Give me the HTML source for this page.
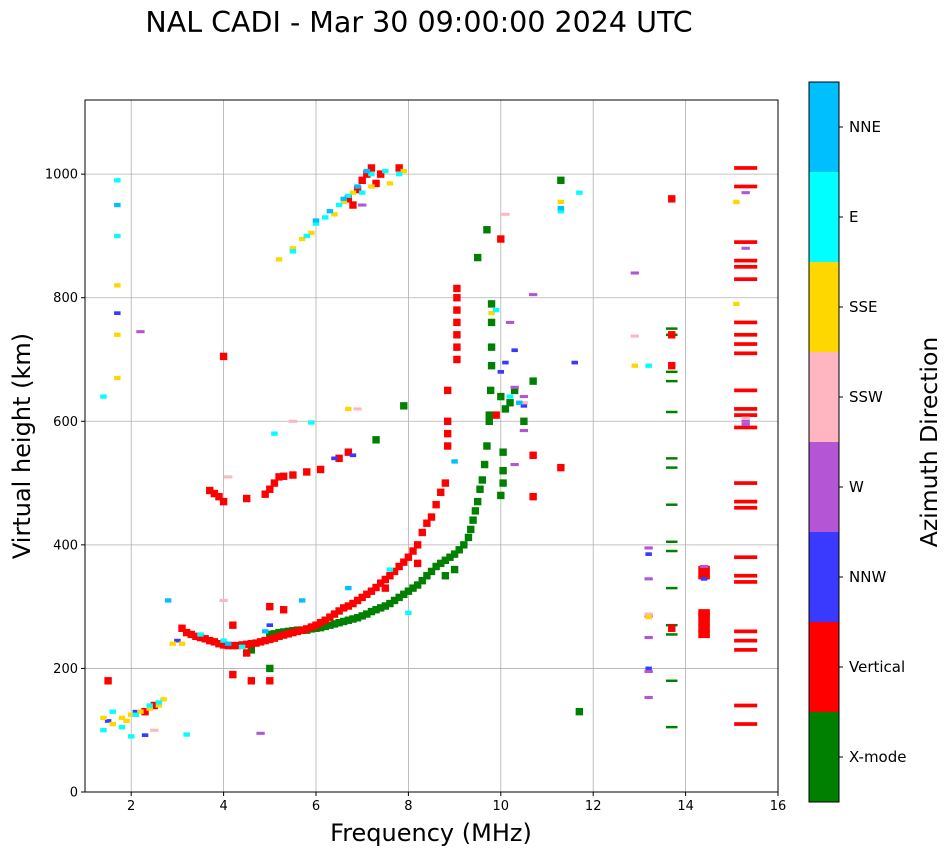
<!DOCTYPE html>
<html><head><meta charset="utf-8"><style>
body{margin:0;background:#fff;font-family:"Liberation Sans","DejaVu Sans",sans-serif}
svg{display:block}
</style></head><body>
<svg id="chart" width="951" height="856" xmlns="http://www.w3.org/2000/svg" font-family="DejaVu Sans, Liberation Sans, sans-serif"></svg>
<script>
const xTicks=[2,4,6,8,10,12,14,16];
const yTicks=[0,200,400,600,800,1000];
const categories=["X-mode","Vertical","NNW","W","SSW","SSE","E","NNE"];
const catColors=["#008000","#ff0000","#3a3aff","#b455d5","#ffb6c1","#ffd700","#00ffff","#00bfff"];
const xmodeFreq=[5.0,5.1,5.2,5.3,5.4,5.5,5.6,5.7,5.8,5.9,6.0,6.1,6.2,6.3,6.4,6.5,6.6,6.7,6.8,6.9,7.0,7.1,7.2,7.3,7.4,7.5,7.6,7.7,7.8,7.9,8.0,8.1,8.2,8.3,8.4,8.5,8.6,8.7,8.8,8.9,9.0,9.1,9.2,9.3,9.35,9.4,9.45,9.5,9.55,9.6,9.65,9.7,9.75,9.78,9.8,9.8,9.8,9.8,9.5,9.7,10.0,10.05,10.05,10.05,10.1,10.3,10.7,11.3,11.7,9.0,8.8,7.3,7.9,9.75,10.0,10.2,10.5,5.0,4.6];
const xmodeHeight=[255,256,258,259,260,261,262,262,262,264,265,266,268,270,272,274,276,278,280,282,285,288,292,295,298,301,305,310,315,320,325,330,335,342,350,357,365,370,375,380,385,392,400,412,425,440,455,470,490,505,530,560,600,650,690,720,760,790,865,910,480,500,520,550,620,650,665,990,130,360,350,570,625,610,640,630,600,200,230];
const vertFreq=[3.1,3.2,3.3,3.4,3.5,3.6,3.7,3.8,3.9,4.0,4.1,4.2,4.3,4.4,4.5,4.6,4.7,4.8,4.9,5.0,5.1,5.2,5.3,5.4,5.5,5.6,5.7,5.8,5.9,6.0,6.1,6.2,6.3,6.4,6.5,6.6,6.7,6.8,6.9,7.0,7.1,7.2,7.3,7.4,7.5,7.6,7.7,7.8,7.9,8.0,8.1,8.2,8.3,8.4,8.5,8.6,8.7,8.8,8.85,8.85,8.85,8.85,9.05,9.05,9.05,9.05,9.05,9.05,9.05,3.7,3.8,3.9,4.0,4.5,4.9,5.0,5.1,5.2,5.3,5.5,5.8,6.1,6.5,6.7,6.7,6.9,7.0,7.1,7.2,7.4,7.8,7.3,6.8,4.0,10.0,9.9,10.7,10.7,11.3,13.7,13.7,13.7,13.7,4.2,4.6,5.0,4.5,4.2,1.5,2.3,2.5,5.3,5.0,8.2,7.5];
const vertHeight=[265,258,255,252,250,248,245,243,240,238,237,237,237,238,239,240,241,243,245,247,249,252,254,256,258,260,262,264,267,270,274,278,283,288,293,298,301,305,310,315,320,325,331,338,344,350,357,365,372,380,390,400,420,435,445,465,485,500,560,580,600,650,700,720,740,760,780,800,815,488,483,478,470,475,482,490,500,510,511,513,518,522,540,550,960,975,990,1000,1010,1000,1010,985,950,705,895,610,545,478,525,960,690,740,265,190,180,180,225,270,180,130,140,295,300,370,330];
const vertBarFreq=[15.3,15.3,15.3,15.3,15.3,15.3,15.3,15.3,15.3,15.3,15.3,15.3,15.3,15.3,15.3,15.3,15.3,15.3,15.3,15.3,15.3,15.3,15.3,15.3,15.3];
const vertBarHeight=[110,140,230,245,260,340,350,380,460,470,500,590,610,620,650,710,725,740,760,830,850,860,890,980,1010];
const vertBlockFreq=[14.4,14.4,14.4,14.4,14.4,14.4,14.4];
const vertBlockHeight=[255,265,275,285,290,350,360];
const greenBarFreq=[13.7,13.7,13.7,13.7,13.7,13.7,13.7,13.7,13.7,13.7,13.7,13.7,13.7,13.7,13.7];
const greenBarHeight=[105,180,255,270,330,390,405,465,525,540,615,665,680,740,750];
const nnwFreq=[1.7,2.3,6.4,6.8,10.1,10.3,10.0,11.6,13.2,13.2,14.4,3.0,5.0,10.5,1.5,2.1];
const nnwHeight=[775,92,540,545,695,715,680,695,385,200,345,245,270,625,115,130];
const wFreq=[10.2,10.3,10.5,10.7,10.5,10.3,12.9,13.2,13.2,13.2,13.2,13.2,13.2,14.4,15.3,15.3,15.3,15.3,4.8,7.0,2.2];
const wHeight=[760,655,640,805,585,530,840,395,345,285,250,195,153,365,595,600,880,970,95,950,745];
const sswFreq=[10.1,12.9,13.2,10.5,5.5,4.1,4.0,15.3,6.9,2.5];
const sswHeight=[935,738,288,630,600,510,310,605,620,100];
const sseFreq=[5.2,5.5,5.7,5.9,6.4,6.6,6.8,7.2,7.6,7.9,11.3,15.1,15.1,1.7,1.7,1.7,1.4,1.6,1.8,2.0,2.9,3.1,6.7,9.8,13.2,12.9,1.9,2.2,2.4,2.6,2.7];
const sseHeight=[862,880,895,905,935,955,970,980,985,1005,955,955,790,670,740,820,120,110,120,125,240,240,620,775,283,690,115,130,135,140,150];
const eFreq=[5.5,5.8,6.0,6.2,6.5,6.7,7.0,7.2,7.5,7.8,1.7,1.7,1.4,1.4,1.6,2.0,2.6,3.2,4.0,4.4,5.1,5.9,9.9,10.2,11.3,11.7,13.2,7.6,8.0,3.5,1.8,2.1,2.4];
const eHeight=[875,900,920,930,950,965,970,1000,1005,1000,990,900,640,100,130,90,145,93,245,235,580,598,780,640,940,970,690,360,290,255,105,125,140];
const nneFreq=[6.0,6.3,6.6,6.9,7.1,9.0,10.4,4.1,4.9,6.7,1.7,11.3,2.8,5.7];
const nneHeight=[925,940,960,980,1005,535,630,240,260,330,950,945,310,310];
const seriesList=[
 {cat:0,f:xmodeFreq,h:xmodeHeight,w:0.16,dh:12,name:"xmode-trace"},
 {cat:0,f:greenBarFreq,h:greenBarHeight,w:0.25,dh:4,name:"xmode-bars"},
 {cat:1,f:vertFreq,h:vertHeight,w:0.16,dh:12,name:"vertical-trace"},
 {cat:1,f:vertBarFreq,h:vertBarHeight,w:0.5,dh:6,name:"vertical-bars"},
 {cat:1,f:vertBlockFreq,h:vertBlockHeight,w:0.25,dh:12,name:"vertical-block"},
 {cat:2,f:nnwFreq,h:nnwHeight,w:0.14,dh:6,name:"nnw-points"},
 {cat:3,f:wFreq,h:wHeight,w:0.18,dh:5,name:"w-points"},
 {cat:4,f:sswFreq,h:sswHeight,w:0.18,dh:5,name:"ssw-points"},
 {cat:5,f:sseFreq,h:sseHeight,w:0.14,dh:7,name:"sse-points"},
 {cat:6,f:eFreq,h:eHeight,w:0.14,dh:7,name:"e-points"},
 {cat:7,f:nneFreq,h:nneHeight,w:0.14,dh:7,name:"nne-points"}
];
const NS="http://www.w3.org/2000/svg";
const svg=document.getElementById("chart");
const L=85,R=778,T=100,B=792,xMin=1,xMax=16,yMin=0,yMax=1120;
const xs=v=>L+(v-xMin)/(xMax-xMin)*(R-L);
const ys=v=>B-(v-yMin)/(yMax-yMin)*(B-T);
function mk(tag,attrs,parent){const e=document.createElementNS(NS,tag);for(const k in attrs)e.setAttribute(k,attrs[k]);(parent||svg).appendChild(e);return e;}
const title=mk("text",{x:419,y:32,"text-anchor":"middle","font-size":28.5});
title.textContent="NAL CADI - Mar 30 09:00:00 2024 UTC";


const grid=mk("g",{});


xTicks.forEach(t=>{const x=xs(t);
 if(t<xMax)mk("line",{x1:x,x2:x,y1:T,y2:B,stroke:"#b0b0b0","stroke-width":0.8},grid);
 mk("line",{x1:x,x2:x,y1:B,y2:B+4,stroke:"#000"},grid);
 const tx=mk("text",{x:x,y:B+18,"text-anchor":"middle","font-size":13},grid);tx.textContent=t;
 
 });
yTicks.forEach(t=>{const y=ys(t);
 mk("line",{x1:L,x2:R,y1:y,y2:y,stroke:"#b0b0b0","stroke-width":0.8},grid);
 mk("line",{x1:L-4,x2:L,y1:y,y2:y,stroke:"#000"},grid);
 const tx=mk("text",{x:L-7,y:y+4.5,"text-anchor":"end","font-size":13},grid);tx.textContent=t;
 
 });
seriesList.forEach(s=>{
 const g=mk("g",{fill:catColors[s.cat]});
 
 
 s.f.forEach((f,i)=>{const x0=xs(f-s.w/2),x1=xs(f+s.w/2),y0=ys(s.h[i]+s.dh/2),y1=ys(s.h[i]-s.dh/2);
  const r=mk("rect",{x:x0,y:y0,width:x1-x0,height:Math.max(2,y1-y0)},g);
  
  });
});
const frame=mk("rect",{x:L,y:T,width:R-L,height:B-T,fill:"none",stroke:"#000","stroke-width":1});


const xl=mk("text",{x:431,y:841,"text-anchor":"middle","font-size":24});xl.textContent="Frequency (MHz)";


const yl=mk("text",{x:0,y:0,"text-anchor":"middle","font-size":24,transform:"translate(30,446) rotate(-90)"});yl.textContent="Virtual height (km)";


const cb=mk("g",{});


const cbT=82,cbB=802,cbL=809,cbW=30,seg=(cbB-cbT)/categories.length;
categories.forEach((c,i)=>{const y=cbB-(i+1)*seg;
 const r=mk("rect",{x:cbL,y:y,width:cbW,height:seg,fill:catColors[i]},cb);
 
 
 mk("line",{x1:cbL+cbW,x2:cbL+cbW+4,y1:y+seg/2,y2:y+seg/2,stroke:"#000"},cb);
 const t=mk("text",{x:cbL+cbW+10,y:y+seg/2+5,"font-size":15},cb);t.textContent=c;
 
 });
mk("rect",{x:cbL,y:cbT,width:cbW,height:cbB-cbT,fill:"none",stroke:"#000"},cb);
const cl=mk("text",{x:0,y:0,"text-anchor":"middle","font-size":23.5,transform:"translate(937,442) rotate(-90)"});cl.textContent="Azimuth Direction";


</script>
</body></html>
